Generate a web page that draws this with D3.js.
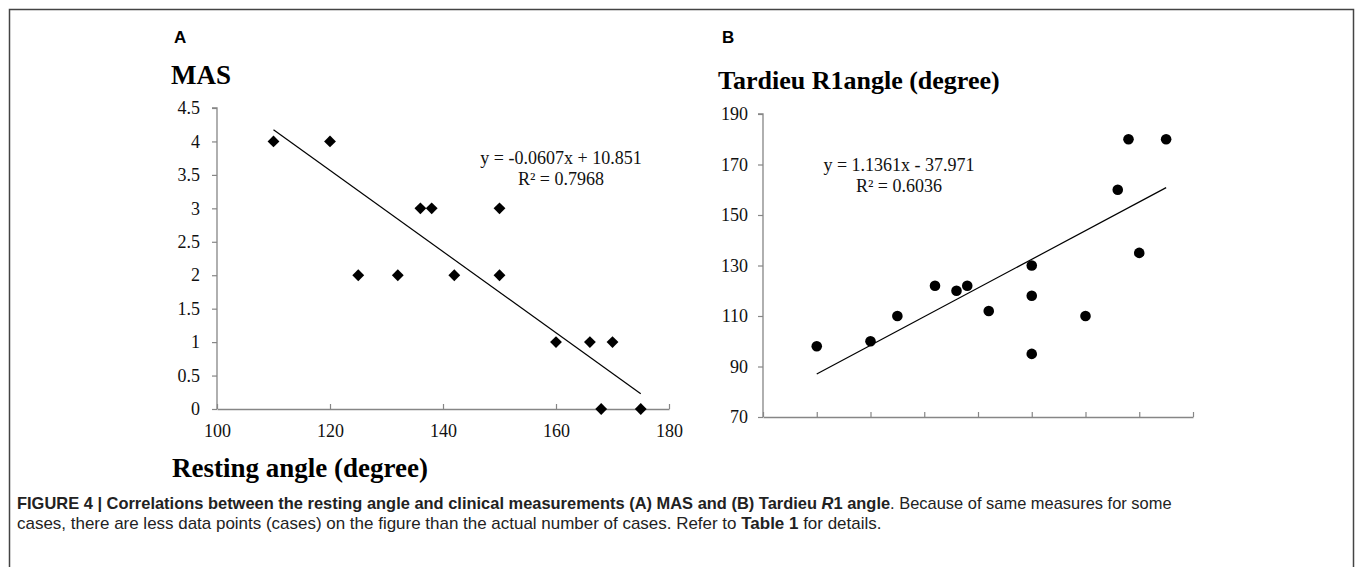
<!DOCTYPE html>
<html>
<head>
<meta charset="utf-8">
<script src="https://cdn.jsdelivr.net/npm/d3@7"></script>
<style>
  html, body { margin: 0; padding: 0; background: #fff; }
  svg { display: block; }
</style>
</head>
<body>
<svg id="chart" width="1355" height="567"></svg>
<script>
// ---------- Data ----------
const masRestingAngle = [110, 120, 125, 132, 136, 138, 142, 150, 150, 160, 166, 170, 168, 175];
const masValues       = [4,   4,   2,   2,   3,   3,   2,   3,   2,   1,   1,   1,   0,   0];
const masYTicks = [0, 0.5, 1, 1.5, 2, 2.5, 3, 3.5, 4, 4.5];
const masXTicks = [100, 120, 140, 160, 180];
const masFit = { slope: -0.0607, intercept: 10.851, r2: "0.7968" };

const tardRestingAngle = [110, 120, 125, 132, 136, 138, 142, 150, 150, 150, 160, 166, 170, 168, 175];
const tardValues       = [98,  100, 110, 122, 120, 122, 112, 130, 118, 95,  110, 160, 135, 180, 180];
const tardYTicks = [70, 90, 110, 130, 150, 170, 190];
const tardXTicks = [100, 110, 120, 130, 140, 150, 160, 170, 180];
const tardFit = { slope: 1.1361, intercept: -37.971, r2: "0.6036" };

const svg = d3.select("#chart");
const serif = "'Liberation Serif', 'Times New Roman', serif";
const sans = "'Liberation Sans', Arial, Helvetica, sans-serif";
const axisColor = "#868686";

// Border of figure box
svg.append("path")
  .attr("d", "M9.5,567 L9.5,9.5 L1353.5,9.5 L1353.5,567")
  .attr("fill", "none").attr("stroke", "#444").attr("stroke-width", 1.5);

function panel(opt) {
  const g = svg.append("g");
  const x = d3.scaleLinear().domain(opt.xDomain).range(opt.xRange);
  const y = d3.scaleLinear().domain(opt.yDomain).range(opt.yRange);

  // y axis
  const yAxis = d3.axisLeft(y).tickValues(opt.yTicks).tickSize(5).tickPadding(opt.yPad)
    .tickFormat(d3.format(opt.yFmt));
  const ya = g.append("g").attr("transform", `translate(${opt.xRange[0]},0)`).call(yAxis);
  ya.select(".domain").attr("stroke", axisColor).attr("stroke-width", 1.3)
    .attr("d", `M-5,${opt.yRange[1]}H0V${opt.yRange[0]}`);
  ya.selectAll(".tick line").attr("stroke", axisColor).attr("stroke-width", 1.2);
  ya.selectAll(".tick text").attr("font-family", serif).attr("font-size", 18).attr("fill", "#111");

  // x axis, ticks pointing inward (upward)
  const xAxis = d3.axisBottom(x).tickValues(opt.xTicks).tickSizeInner(-5).tickSizeOuter(0)
    .tickPadding(15).tickFormat(opt.showXLabels ? d3.format("d") : () => "");
  const xa = g.append("g").attr("transform", `translate(0,${opt.yRange[0]})`).call(xAxis);
  xa.select(".domain").attr("stroke", axisColor).attr("stroke-width", 1.3);
  xa.selectAll(".tick line").attr("stroke", axisColor).attr("stroke-width", 1.2);
  xa.selectAll(".tick text").attr("font-family", serif).attr("font-size", 18).attr("fill", "#111");

  // trendline
  const xs = opt.xs, ys = opt.ys;
  const x0 = d3.min(xs), x1 = d3.max(xs);
  const f = v => opt.fit.slope * v + opt.fit.intercept;
  g.append("line")
    .attr("x1", x(x0)).attr("y1", y(f(x0)))
    .attr("x2", x(x1)).attr("y2", y(f(x1)))
    .attr("stroke", "#000").attr("stroke-width", 1.2);

  // points
  const sym = d3.symbol().type(opt.symbol).size(opt.symSize);
  g.selectAll("path.pt").data(xs.map((v, i) => [v, ys[i]])).enter()
    .append("path").attr("class", "pt")
    .attr("d", sym)
    .attr("transform", d => `translate(${x(d[0])},${y(d[1])}) rotate(${opt.rot})`)
    .attr("fill", "#000");

  // equation
  const sign = opt.fit.intercept < 0 ? "-" : "+";
  g.append("text").attr("x", opt.eqX).attr("y", opt.eqY)
    .attr("text-anchor", "middle").attr("font-family", serif).attr("font-size", 18).attr("fill", "#111")
    .text(`y = ${opt.fit.slope}x ${sign} ${Math.abs(opt.fit.intercept)}`);
  g.append("text").attr("x", opt.eqX).attr("y", opt.eqY + 21)
    .attr("text-anchor", "middle").attr("font-family", serif).attr("font-size", 18).attr("fill", "#111")
    .text(`R² = ${opt.fit.r2}`);

  // panel letter
  g.append("text").attr("x", opt.letterX).attr("y", 43)
    .attr("font-family", sans).attr("font-weight", "bold").attr("font-size", 17)
    .text(opt.letter);
  // y title
  g.append("text").attr("x", opt.titleX).attr("y", opt.titleY)
    .attr("font-family", serif).attr("font-weight", "bold").attr("font-size", opt.titleSize)
    .text(opt.title);
  return { x, y };
}

panel({
  xDomain: [100, 180], xRange: [217, 669],
  yDomain: [0, 4.5], yRange: [409, 108],
  yTicks: masYTicks, xTicks: masXTicks, yFmt: "", yPad: 12,
  showXLabels: true,
  xs: masRestingAngle, ys: masValues, fit: masFit,
  symbol: d3.symbolSquare, symSize: 70, rot: 45,
  eqX: 561, eqY: 164,
  letter: "A", letterX: 174,
  title: "MAS", titleX: 171, titleY: 84, titleSize: 27
});

panel({
  xDomain: [100, 180], xRange: [763, 1193],
  yDomain: [70, 190], yRange: [417, 114],
  yTicks: tardYTicks, xTicks: tardXTicks, yFmt: "d", yPad: 10,
  showXLabels: false,
  xs: tardRestingAngle, ys: tardValues, fit: tardFit,
  symbol: d3.symbolCircle, symSize: 88, rot: 0,
  eqX: 899, eqY: 171,
  letter: "B", letterX: 722,
  title: "Tardieu R1angle (degree)", titleX: 718, titleY: 89, titleSize: 26
});

// x title of panel A
svg.append("text").attr("x", 172).attr("y", 477).attr("text-anchor", "start")
  .attr("font-family", serif).attr("font-weight", "bold").attr("font-size", 27)
  .text("Resting angle (degree)");

// caption
function captionLine(y, parts, targetWidth) {
  const t = svg.append("text").attr("x", 0).attr("y", 0)
    .attr("font-family", sans).attr("font-size", 16).attr("fill", "#222");
  parts.forEach(p => {
    const s = t.append("tspan").text(p.t);
    if (p.b) s.attr("font-weight", "bold");
    if (p.i) s.attr("font-style", "italic");
  });
  const w = t.node().getComputedTextLength();
  const k = targetWidth / w;
  t.attr("transform", `translate(17,${y}) scale(${k},1)`);
}
captionLine(509, [
  { t: "FIGURE 4 | Correlations between the resting angle and clinical measurements (A) MAS and (B) Tardieu ", b: true },
  { t: "R", b: true, i: true },
  { t: "1 angle", b: true },
  { t: ". Because of same measures for some" }
], 1155);
captionLine(529, [
  { t: "cases, there are less data points (cases) on the figure than the actual number of cases. Refer to " },
  { t: "Table 1", b: true },
  { t: " for details." }
], 865);
</script>
</body>
</html>
